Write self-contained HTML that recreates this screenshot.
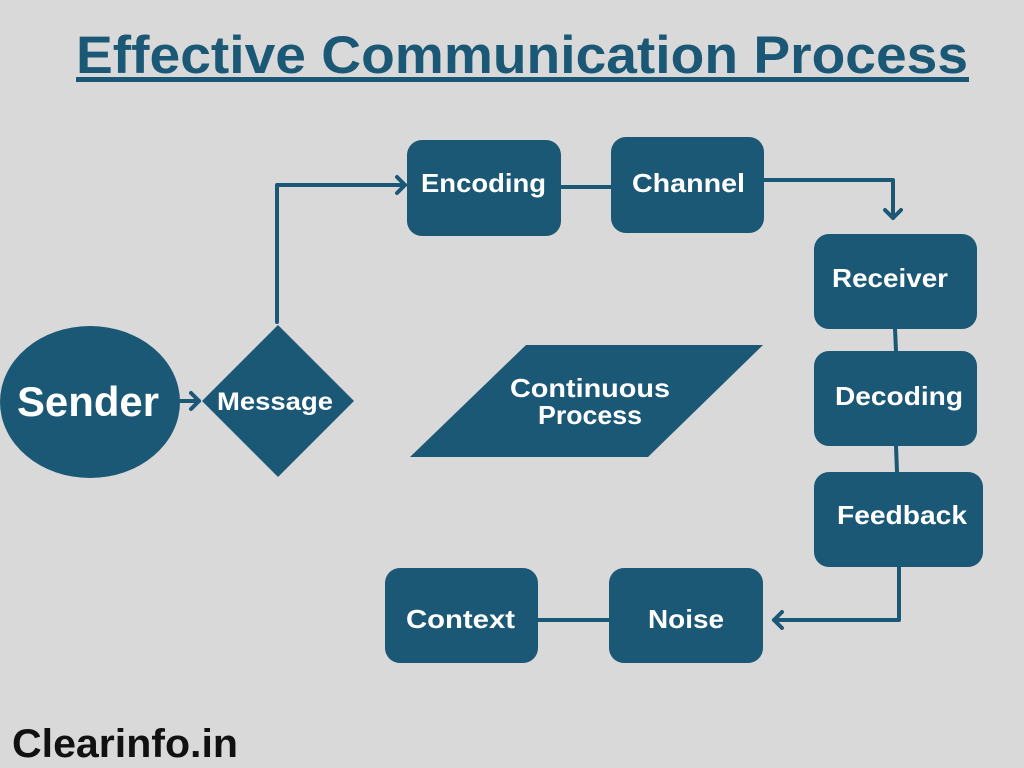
<!DOCTYPE html>
<html>
<head>
<meta charset="utf-8">
<style>
  html,body{margin:0;padding:0;background:#d9d9d9;}
  svg{display:block;}
  text{font-family:"Liberation Sans","DejaVu Sans",sans-serif;font-weight:bold;}
</style>
</head>
<body>
<svg width="1024" height="768" viewBox="0 0 1024 768" xmlns="http://www.w3.org/2000/svg">
  <rect x="0" y="0" width="1024" height="768" fill="#d9d9d9"/>

  <!-- Title -->
  <text x="76" y="73" font-size="53" fill="#1b5876" textLength="892" lengthAdjust="spacingAndGlyphs">Effective Communication Process</text>
  <rect x="76" y="77" width="893" height="5" fill="#1b5876"/>

  <g fill="none" stroke="#1b5876" stroke-width="4" stroke-linecap="round" stroke-linejoin="round">
    <!-- Sender -> Message -->
    <line x1="180" y1="401" x2="199" y2="401"/>
    <polyline points="191,393 199,401 191,409"/>
    <!-- Message up to Encoding -->
    <polyline points="277,322 277,185 405,185"/>
    <polyline points="397,177 405,185 397,193"/>
    <!-- Encoding - Channel -->
    <line x1="561" y1="187" x2="611" y2="187"/>
    <!-- Channel -> Receiver -->
    <polyline points="764,180 893,180 893,218"/>
    <polyline points="885,210 893,218 901,210"/>
    <!-- Receiver - Decoding -->
    <line x1="895" y1="329" x2="896" y2="351"/>
    <!-- Decoding - Feedback -->
    <line x1="896" y1="446" x2="897" y2="472"/>
    <!-- Feedback -> Noise -->
    <polyline points="899,567 899,620 774,620"/>
    <polyline points="782,612 774,620 782,628"/>
    <!-- Noise - Context -->
    <line x1="538" y1="620" x2="609" y2="620"/>
  </g>

  <g fill="#1b5876">
    <ellipse cx="90" cy="402" rx="90" ry="76"/>
    <polygon points="278,325 354,401 278,477 202,401"/>
    <rect x="407" y="140" width="154" height="96" rx="15"/>
    <rect x="611" y="137" width="153" height="96" rx="15"/>
    <rect x="814" y="234" width="163" height="95" rx="15"/>
    <rect x="814" y="351" width="163" height="95" rx="15"/>
    <rect x="814" y="472" width="169" height="95" rx="15"/>
    <rect x="609" y="568" width="154" height="95" rx="15"/>
    <rect x="385" y="568" width="153" height="95" rx="15"/>
    <polygon points="526,345 763,345 648,457 410,457"/>
  </g>

  <g fill="#ffffff">
    <text x="17" y="416" font-size="42" textLength="142" lengthAdjust="spacingAndGlyphs">Sender</text>
    <text x="217" y="410" font-size="25" textLength="116" lengthAdjust="spacingAndGlyphs">Message</text>
    <text x="421" y="192" font-size="26" textLength="125" lengthAdjust="spacingAndGlyphs">Encoding</text>
    <text x="632" y="192" font-size="26" textLength="113" lengthAdjust="spacingAndGlyphs">Channel</text>
    <text x="832" y="287" font-size="26" textLength="116" lengthAdjust="spacingAndGlyphs">Receiver</text>
    <text x="835" y="405" font-size="26" textLength="128" lengthAdjust="spacingAndGlyphs">Decoding</text>
    <text x="837" y="524" font-size="26" textLength="130" lengthAdjust="spacingAndGlyphs">Feedback</text>
    <text x="648" y="628" font-size="26" textLength="76" lengthAdjust="spacingAndGlyphs">Noise</text>
    <text x="406" y="628" font-size="26" textLength="109" lengthAdjust="spacingAndGlyphs">Context</text>
    <text x="510" y="397" font-size="26" textLength="160" lengthAdjust="spacingAndGlyphs">Continuous</text>
    <text x="538" y="424" font-size="26" textLength="104" lengthAdjust="spacingAndGlyphs">Process</text>
  </g>

  <text x="12" y="757" font-size="40" fill="#111111" textLength="226" lengthAdjust="spacingAndGlyphs">Clearinfo.in</text>
</svg>
</body>
</html>
